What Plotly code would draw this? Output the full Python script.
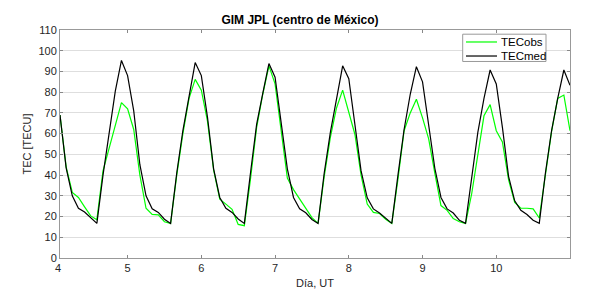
import plotly.graph_objects as go

# time index: 2-hour samples starting day 4 + 2h
day_start = 4
samples_per_day = 12
n = 84
time_days = [day_start + k / samples_per_day for k in range(1, n + 1)]

tec_med = [69, 43.5, 30, 24, 22.2, 19.3, 16.7, 40, 61, 80.5, 95.3, 88,
           71, 45, 30, 23.7, 22, 18.7, 16.7, 41, 61.5, 78, 94.3, 88,
           68, 43, 29.2, 24, 22, 18.8, 16.7, 41, 64.5, 79.4, 93.8, 87.2,
           65, 43, 29.2, 23.7, 21.8, 18.6, 16.7, 41, 60.6, 77, 92.7, 86.5,
           63, 42, 29, 23.7, 21.7, 19, 16.7, 40, 62, 79, 92.3, 85,
           64.5, 43.3, 29.2, 23.7, 21.7, 18.2, 16.7, 39.4, 60.6, 77, 90.7, 84,
           63, 39.4, 27.6, 23, 21, 18.2, 16.7, 41, 61.4, 77, 90.7, 83.3]

tec_obs = [69, 44, 31.6, 29.2, 24.7, 20.3, 18.5, 42, 53, 64, 75, 72,
           62, 40, 24, 21, 20.8, 17.5, 16.7, 40, 60, 77, 86.2, 81,
           66, 42.5, 28.4, 26, 23.5, 16.2, 15.6, 38, 63, 79, 92.7, 84,
           62, 38.6, 33, 28.5, 24, 19.5, 16.7, 39.4, 58.2, 72.4, 81, 70.8,
           59.6, 40, 26, 22, 21.5, 18.7, 16.7, 38, 61.4, 70, 76.6, 67.6,
           57.5, 41, 25.3, 23, 19, 17.5, 16.7, 31, 49, 68.6, 74, 61.4,
           56, 37.8, 26.8, 24, 24, 23.7, 19.3, 39, 61, 77, 78.6, 61.4]

series_names = ["TECobs", "TECmed"]
series_colors = ["#00ff00", "#000000"]

x_ticks = [5, 6, 7, 8, 9, 10]
y_ticks = list(range(0, 111, 10))

font = "Liberation Sans, Arial, Helvetica, sans-serif"
txt = "#262626"

fig = go.Figure()
for name, vals, col in zip(series_names, [tec_obs, tec_med], series_colors):
    fig.add_trace(go.Scatter(x=time_days, y=vals, mode="lines", name=name,
                             line=dict(color=col, width=1.2), showlegend=False))

x0, x1 = time_days[0], 11.0
W, H = 600, 300
L, R, T, B = 60, 30, 30, 36
pw, ph = W - L - R, H - T - B

def px(xp):
    return (xp - L) / pw

def py(yp):
    return (H - B - yp) / ph

fig.update_layout(
    width=W, height=H,
    margin=dict(l=L, r=R, t=T, b=B),
    paper_bgcolor="white", plot_bgcolor="white",
    font=dict(family=font, size=11, color=txt),
    title=dict(text="<b>GIM JPL (centro de México)</b>", x=0.5, xanchor="center",
               y=1 - 20 / H, yanchor="middle", font=dict(size=12, color="#000")),
    xaxis=dict(range=[x0, x1], tickvals=x_ticks, ticks="inside", ticklen=3,
               tickcolor="#888", showline=True, linecolor="#999", linewidth=1, mirror="ticks",
               showgrid=False, zeroline=False,
               title=dict(text="Día, UT", standoff=6, font=dict(size=11)),
               tickfont=dict(size=11)),
    yaxis=dict(range=[0, 110], tickvals=y_ticks, ticks="inside", ticklen=3,
               tickcolor="#888", showline=True, linecolor="#999", linewidth=1, mirror="ticks",
               showgrid=True, gridcolor="#dedede", gridwidth=1, zeroline=False,
               title=dict(text="TEC [TECU]", standoff=4, font=dict(size=11)),
               tickfont=dict(size=11)),
    showlegend=False,
)

# manual legend box (MATLAB style)
lx0, lx1, ly0, ly1 = 462.7, 546, 34.3, 62.3
fig.add_shape(type="rect", xref="paper", yref="paper",
              x0=px(lx0), x1=px(lx1), y0=py(ly1), y1=py(ly0),
              line=dict(color="#999", width=1), fillcolor="white", layer="above")
for i, (name, col) in enumerate(zip(series_names, series_colors)):
    yy = 42.3 + i * 14.4
    fig.add_shape(type="line", xref="paper", yref="paper",
                  x0=px(466), x1=px(497), y0=py(yy), y1=py(yy),
                  line=dict(color=col, width=1.2), layer="above")
    fig.add_annotation(x=px(499), y=py(yy), xref="paper", yref="paper",
                       xanchor="left", yanchor="middle", text=name, showarrow=False,
                       font=dict(size=11.5, color="#000"))

# label for day 4 sits just left of the axis start
fig.add_annotation(x=px(53.4), xref="paper",
                   y=0, yref="paper", yanchor="top", yshift=-2,
                   text="4", showarrow=False, font=dict(size=11, color=txt))

fig.write_html("out.html")
